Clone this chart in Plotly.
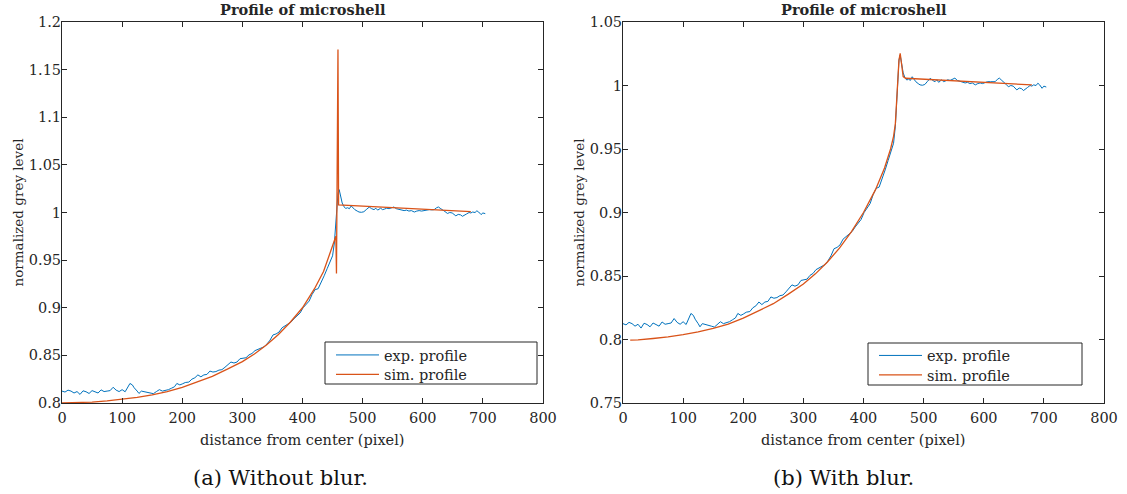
import plotly.graph_objects as go

# ---------------- data ----------------
exp_x = [0, 5, 10, 15, 20, 25, 30, 35, 40, 45, 50, 55, 60, 65, 70, 75, 80, 85, 90, 95,
         100, 105, 110, 113, 117, 120, 125, 128, 132, 137, 142, 147, 152, 157, 162, 167,
         172, 177, 182, 187, 191, 196, 200, 205, 211, 216, 221, 226, 231, 236, 241, 246,
         251, 256, 261, 266, 271, 276, 281, 286, 291, 296, 301, 306, 311, 316, 321, 326,
         331, 336, 341, 346, 351, 356, 361, 366, 371, 376, 381, 386, 391, 396, 401, 406,
         411, 416, 421, 426, 431, 436, 441, 446, 450, 453, 456, 459, 461, 463, 466, 469,
         472, 475, 478, 481, 484, 487, 491, 494, 498, 502, 506, 511, 515, 519, 522, 525,
         530, 533, 536, 540, 544, 548, 552, 556, 561, 565, 569, 573, 577, 581, 586, 590,
         594, 598, 602, 606, 611, 615, 619, 623, 626, 630, 633, 637, 641, 645, 649, 652,
         655, 659, 663, 666, 669, 673, 677, 680, 683, 687, 690, 693, 697, 700, 704]
exp_y = [0.8125, 0.8115, 0.8135, 0.8125, 0.8105, 0.8120, 0.8090, 0.8128, 0.8118, 0.8100,
         0.8130, 0.8115, 0.8105, 0.8138, 0.8120, 0.8125, 0.8130, 0.8165, 0.8135, 0.8120,
         0.8140, 0.8118, 0.8170, 0.8205, 0.8190, 0.8160, 0.8125, 0.8100, 0.8125, 0.8120,
         0.8110, 0.8105, 0.8098, 0.8120, 0.8140, 0.8125, 0.8130, 0.8140, 0.8155, 0.8170,
         0.8205, 0.8190, 0.8200, 0.8215, 0.8220, 0.8250, 0.8265, 0.8295, 0.8275, 0.8295,
         0.8300, 0.8335, 0.8325, 0.8330, 0.8345, 0.8350, 0.8375, 0.8400, 0.8430, 0.8420,
         0.8430, 0.8465, 0.8470, 0.8475, 0.8505, 0.8520, 0.8550, 0.8565, 0.8575, 0.8590,
         0.8620, 0.8660, 0.8715, 0.8725, 0.8745, 0.8790, 0.8810, 0.8830, 0.8850, 0.8885,
         0.8920, 0.8945, 0.9000, 0.9035, 0.9070, 0.9140, 0.9190, 0.9200, 0.9260, 0.9335,
         0.9410, 0.9480, 0.9545, 0.9680, 0.9965, 1.0200, 1.0240, 1.0180, 1.0100, 1.0060,
         1.0043, 1.0050, 1.0040, 1.0069, 1.0045, 1.0030, 1.0015, 1.0005, 1.0002, 1.0008,
         1.0030, 1.0057, 1.0040, 1.0030, 1.0045, 1.0025, 1.0045, 1.0030, 1.0035, 1.0045,
         1.0040, 1.0050, 1.0058, 1.0040, 1.0030, 1.0025, 1.0020, 1.0025, 1.0015, 1.0020,
         1.0005, 1.0015, 1.0020, 1.0015, 1.0020, 1.0030, 1.0030, 1.0028, 1.0030, 1.0050,
         1.0058, 1.0040, 1.0030, 1.0010, 0.9990, 1.0000, 0.9995, 0.9975, 0.9965, 0.9980,
         0.9975, 0.9960, 0.9968, 0.9985, 1.0000, 0.9995, 1.0005, 1.0000, 1.0018, 1.0005,
         0.9978, 0.9995, 0.9988]

sim_a_x = [0, 25, 50, 75, 100, 125, 150, 175, 200, 225, 250, 275, 300, 320, 340, 360,
           380, 400, 420, 435, 445, 452, 455.5, 456.5, 459, 460, 680]
sim_a_y = [0.8000, 0.8003, 0.8010, 0.8022, 0.8040, 0.8060, 0.8085, 0.8120, 0.8165,
           0.8220, 0.8280, 0.8355, 0.8435, 0.8515, 0.8610, 0.8720, 0.8850, 0.9000,
           0.9200, 0.9380, 0.9550, 0.9680, 0.9750, 0.9360, 1.1710, 1.0080, 1.0010]

sim_b_x = [12, 25, 50, 75, 100, 125, 150, 175, 200, 225, 250, 275, 300, 320, 340, 360,
           380, 400, 420, 435, 445, 450, 453, 456, 459, 461, 463, 466, 470, 680]
sim_b_y = [0.7995, 0.7997, 0.8008, 0.8020, 0.8038, 0.8060, 0.8088, 0.8122, 0.8168,
           0.8222, 0.8282, 0.8357, 0.8437, 0.8517, 0.8610, 0.8720, 0.8850, 0.9000,
           0.9180, 0.9350, 0.9500, 0.9600, 0.9700, 0.9950, 1.0200, 1.0254, 1.0180,
           1.0070, 1.0057, 1.0005]

x_ticks = [0, 100, 200, 300, 400, 500, 600, 700, 800]
ya_ticks = [0.8, 0.85, 0.9, 0.95, 1.0, 1.05, 1.1, 1.15, 1.2]
ya_text = ["0.8", "0.85", "0.9", "0.95", "1", "1.05", "1.1", "1.15", "1.2"]
yb_ticks = [0.75, 0.8, 0.85, 0.9, 0.95, 1.0, 1.05]
yb_text = ["0.75", "0.8", "0.85", "0.9", "0.95", "1", "1.05"]

title_text = "Profile of microshell"
xlabel = "distance from center (pixel)"
ylabel = "normalized grey level"
captions = ["(a) Without blur.", "(b) With blur."]
names = ["exp. profile", "sim. profile"]

# ---------------- style ----------------
FONT = "DejaVu Serif, Liberation Serif, serif"
BLUE = "#0072BD"
ORANGE = "#D95319"
AX = "#262626"
FS = 14.5

W, H = 1127, 494
def px(x):
    return x / W
def py(y):
    return 1 - y / H

L_A, R_A, L_B, R_B, TOP, BOT = 62, 543, 623, 1104, 22, 403
dom_a = [px(L_A), px(R_A)]
dom_b = [px(L_B), px(R_B)]
dom_y = [py(BOT), py(TOP)]

fig = go.Figure()
fig.add_trace(go.Scatter(x=exp_x, y=exp_y, mode="lines", name=names[0],
                         line=dict(color=BLUE, width=1), xaxis="x", yaxis="y", legend="legend"))
fig.add_trace(go.Scatter(x=sim_a_x, y=sim_a_y, mode="lines", name=names[1],
                         line=dict(color=ORANGE, width=1.3), xaxis="x", yaxis="y", legend="legend2"))
fig.add_trace(go.Scatter(x=exp_x, y=exp_y, mode="lines", name=names[0],
                         line=dict(color=BLUE, width=1), xaxis="x2", yaxis="y2", legend="legend3"))
fig.add_trace(go.Scatter(x=sim_b_x, y=sim_b_y, mode="lines", name=names[1],
                         line=dict(color=ORANGE, width=1.3), xaxis="x2", yaxis="y2", legend="legend4"))

axis_common = dict(showline=True, linecolor=AX, linewidth=1, mirror="ticks", ticks="inside",
                   ticklen=5, tickcolor=AX, showgrid=False, zeroline=False, automargin=False,
                   tickfont=dict(family=FONT, size=FS, color=AX))

def leg(xw, yw):
    return dict(x=px(xw), y=py(yw), xanchor="left", yanchor="middle", itemwidth=43,
                bgcolor="rgba(0,0,0,0)", borderwidth=0,
                font=dict(family=FONT, size=FS, color=AX))

fig.update_layout(
    template="none",
    width=W, height=H, margin=dict(l=0, r=0, t=0, b=0, autoexpand=False),
    paper_bgcolor="white", plot_bgcolor="white",
    font=dict(family=FONT, color=AX),
    xaxis=dict(domain=dom_a, range=[0, 800], tickvals=x_ticks, anchor="y",
               ticklabelstandoff=2, **axis_common),
    yaxis=dict(domain=dom_y, range=[0.8, 1.2], tickvals=ya_ticks, ticktext=ya_text, anchor="x",
               ticklabelstandoff=-3, **axis_common),
    xaxis2=dict(domain=dom_b, range=[0, 800], tickvals=x_ticks, anchor="y2",
                ticklabelstandoff=2, **axis_common),
    yaxis2=dict(domain=dom_y, range=[0.75, 1.05], tickvals=yb_ticks, ticktext=yb_text, anchor="x2",
                ticklabelstandoff=-3, **axis_common),
    legend=leg(331, 355),
    legend2=leg(331, 374.5),
    legend3=leg(874, 355.5),
    legend4=leg(874, 375),
    showlegend=True,
)

# legend boxes
fig.add_shape(type="rect", xref="paper", yref="paper", x0=px(325), x1=px(537), y0=py(384), y1=py(342),
              line=dict(color=AX, width=1), fillcolor="white", layer="below")
fig.add_shape(type="rect", xref="paper", yref="paper", x0=px(868), x1=px(1082), y0=py(385), y1=py(343),
              line=dict(color=AX, width=1), fillcolor="white", layer="below")

# titles, axis labels and captions
for left, right in [(L_A, R_A), (L_B, R_B)]:
    cx = (left + right) / 2
    fig.add_annotation(text="<b>" + title_text + "</b>", x=px(cx), y=py(10), xref="paper", yref="paper",
                       showarrow=False, font=dict(family=FONT, size=FS, color=AX),
                       xanchor="center", yanchor="middle")
    fig.add_annotation(text=xlabel, x=px(cx), y=py(440), xref="paper", yref="paper",
                       showarrow=False, font=dict(family=FONT, size=FS, color=AX),
                       xanchor="center", yanchor="middle")
    fig.add_annotation(text=ylabel, x=px(left - 45), y=py((TOP + BOT) / 2), xref="paper", yref="paper",
                       showarrow=False, textangle=-90, font=dict(family=FONT, size=13.5, color=AX),
                       xanchor="center", yanchor="middle")
for cx, cap in zip([280, 843], captions):
    fig.add_annotation(text=cap, x=px(cx), y=py(478), xref="paper", yref="paper",
                       showarrow=False, font=dict(family=FONT, size=21, color="#111111"),
                       xanchor="center", yanchor="middle")

# the page body has a default 8px margin; remove it so the figure fills the window
fig.write_html("out.html", config={"displayModeBar": False},
               post_script="document.body.style.margin='0';")
